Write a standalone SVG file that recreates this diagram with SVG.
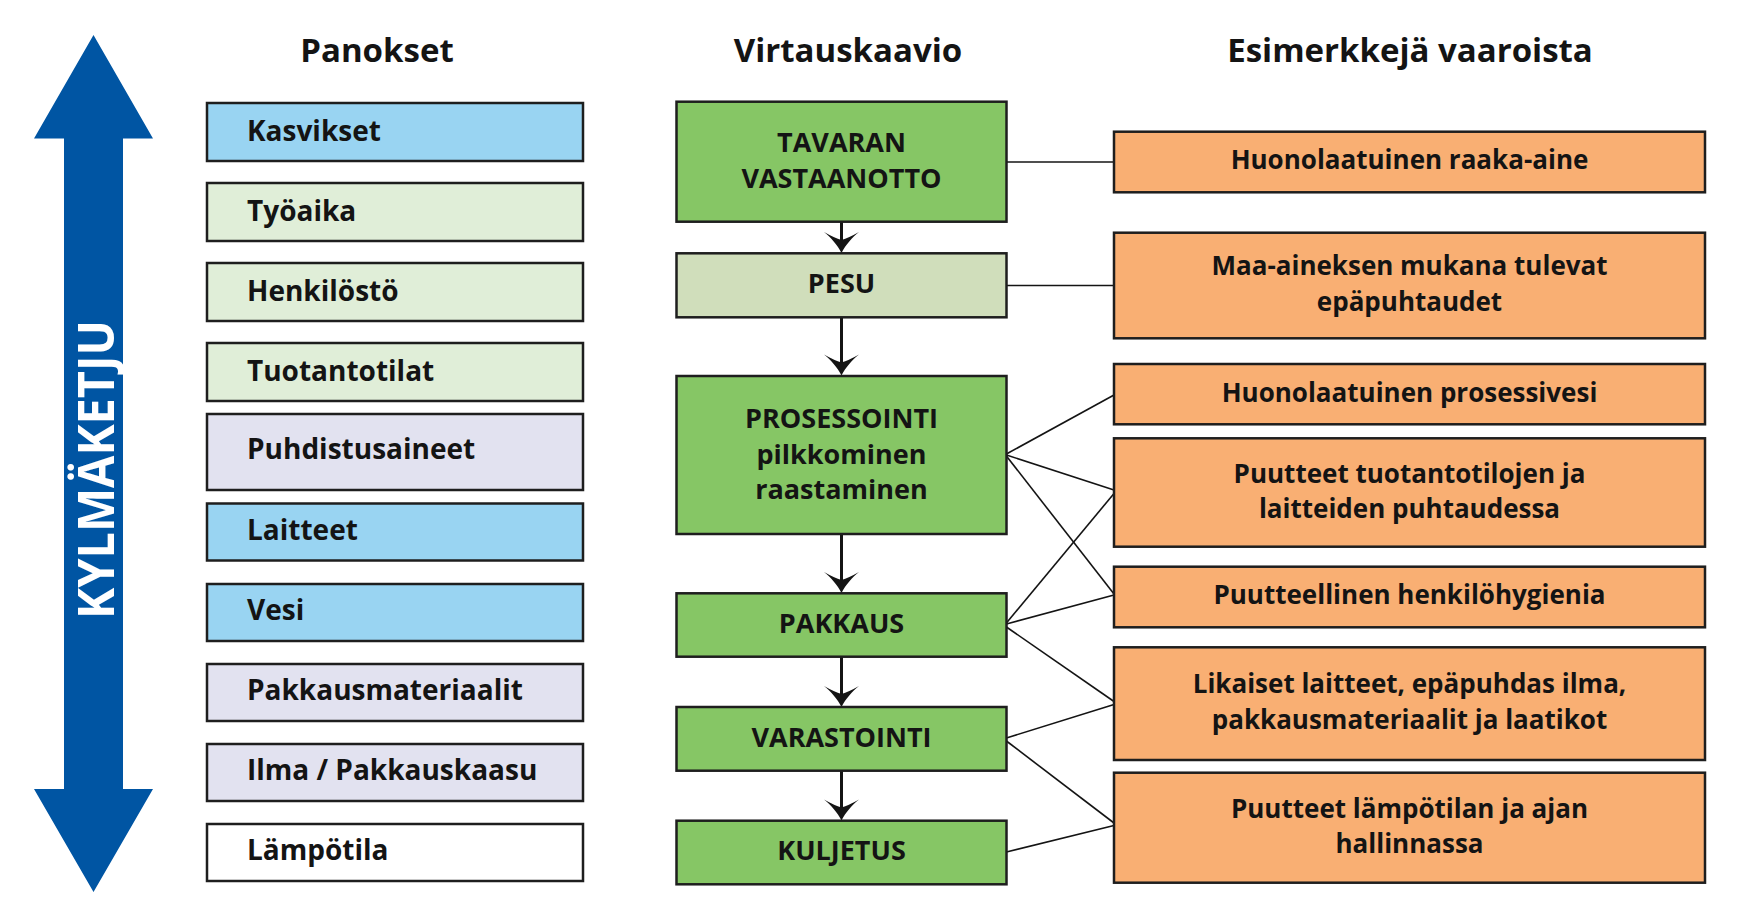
<svg xmlns="http://www.w3.org/2000/svg" xmlns:xlink="http://www.w3.org/1999/xlink" width="1737" height="918" viewBox="0 0 1737 918">
<style>
text{font-family:"Open Sans","Noto Sans",sans-serif;font-weight:700;fill:#141414}
.h{font-size:33px;text-anchor:middle}
.in{font-size:28px}
.fl{font-size:27px;text-anchor:middle}
.hz{font-size:26px;text-anchor:middle}
.box{stroke:#1e1e1e;stroke-width:2.5}
.blue{fill:#99D4F2}.lg{fill:#E0EED8}.lav{fill:#E2E2F0}.wh{fill:#FFFFFF}
.grn{fill:#86C665}.pesu{fill:#D0DEBB}.or{fill:#F9AF73}
.flow{stroke:#141414;stroke-width:3;fill:none}
.con{stroke:#141414;stroke-width:1.6;fill:none}
</style>
<defs>
<path id="ah" d="M0,0 C-4,-8 -11,-16 -17.5,-21 Q-7,-15 0,-13 Q7,-15 17.5,-21 C11,-16 4,-8 0,0 Z" fill="#141414"/>
</defs>
<rect width="1737" height="918" fill="#FFFFFF"/>

<g id="coldchain">
<path d="M93.5,35 L153,138.5 L123,138.5 L123,789 L153,789 L93.5,892 L34,789 L64,789 L64,138.5 L34,138.5 Z" fill="#0055A3"/>
<text transform="translate(113.5,469.5) rotate(-90)" text-anchor="middle" style="font-size:50px;fill:#FFFFFF" textLength="299" lengthAdjust="spacingAndGlyphs">KYLMÄKETJU</text>
</g>

<g id="headers">
<text class="h" x="377" y="62">Panokset</text>
<text class="h" x="848" y="62">Virtauskaavio</text>
<text class="h" x="1410" y="62">Esimerkkejä vaaroista</text>
</g>

<g id="in-kasvikset"><rect class="box blue" x="207" y="103" width="376" height="58"/><text class="in" x="247" y="141">Kasvikset</text></g>
<g id="in-tyoaika"><rect class="box lg" x="207" y="183" width="376" height="58"/><text class="in" x="247" y="221">Työaika</text></g>
<g id="in-henkilosto"><rect class="box lg" x="207" y="263" width="376" height="58"/><text class="in" x="247" y="301">Henkilöstö</text></g>
<g id="in-tuotantotilat"><rect class="box lg" x="207" y="343" width="376" height="58"/><text class="in" x="247" y="381">Tuotantotilat</text></g>
<g id="in-puhdistusaineet"><rect class="box lav" x="207" y="414" width="376" height="76"/><text class="in" x="247" y="459">Puhdistusaineet</text></g>
<g id="in-laitteet"><rect class="box blue" x="207" y="503.5" width="376" height="57"/><text class="in" x="247" y="540">Laitteet</text></g>
<g id="in-vesi"><rect class="box blue" x="207" y="584" width="376" height="57"/><text class="in" x="247" y="620">Vesi</text></g>
<g id="in-pakkausmateriaalit"><rect class="box lav" x="207" y="664" width="376" height="57"/><text class="in" x="247" y="699.5">Pakkausmateriaalit</text></g>
<g id="in-ilma"><rect class="box lav" x="207" y="744" width="376" height="57"/><text class="in" x="247" y="779.5">Ilma / Pakkauskaasu</text></g>
<g id="in-lampotila"><rect class="box wh" x="207" y="824" width="376" height="57"/><text class="in" x="247" y="859.5">Lämpötila</text></g>

<g id="connectors">
<line class="flow" x1="841.5" y1="221.7" x2="841.5" y2="243"/>
<use xlink:href="#ah" x="841.5" y="253"/>
<line class="flow" x1="841.5" y1="317.3" x2="841.5" y2="366"/>
<use xlink:href="#ah" x="841.5" y="375.5"/>
<line class="flow" x1="841.5" y1="534" x2="841.5" y2="583"/>
<use xlink:href="#ah" x="841.5" y="593"/>
<line class="flow" x1="841.5" y1="656.7" x2="841.5" y2="697"/>
<use xlink:href="#ah" x="841.5" y="707"/>
<line class="flow" x1="841.5" y1="770.7" x2="841.5" y2="811"/>
<use xlink:href="#ah" x="841.5" y="820.5"/>

<line class="con" x1="1006.4" y1="162" x2="1114" y2="162"/>
<line class="con" x1="1006.4" y1="285.5" x2="1114" y2="285.5"/>
<line class="con" x1="1006.4" y1="454" x2="1114" y2="395"/>
<line class="con" x1="1006.4" y1="455" x2="1114" y2="490"/>
<line class="con" x1="1006.4" y1="456" x2="1114" y2="594"/>
<line class="con" x1="1006.4" y1="623" x2="1114" y2="493.5"/>
<line class="con" x1="1006.4" y1="624" x2="1114" y2="595"/>
<line class="con" x1="1006.4" y1="627" x2="1114" y2="701.5"/>
<line class="con" x1="1006.4" y1="738" x2="1114" y2="704.5"/>
<line class="con" x1="1006.4" y1="741" x2="1114" y2="823"/>
<line class="con" x1="1006.4" y1="852" x2="1114" y2="825.5"/>
</g>

<g id="flow-tavaran"><rect class="box grn" x="676.5" y="101.7" width="330" height="120"/><text class="fl" x="841.5" y="152.3">TAVARAN</text><text class="fl" x="841.5" y="187.7">VASTAANOTTO</text></g>
<g id="flow-pesu"><rect class="box pesu" x="676.5" y="253.3" width="330" height="64"/><text class="fl" x="841.5" y="293.3">PESU</text></g>
<g id="flow-prosessointi"><rect class="box grn" x="676.5" y="376" width="330" height="158"/><text class="fl" x="841.5" y="427.7">PROSESSOINTI</text><text class="fl" x="841.5" y="463.5">pilkkominen</text><text class="fl" x="841.5" y="499.3">raastaminen</text></g>
<g id="flow-pakkaus"><rect class="box grn" x="676.5" y="593.3" width="330" height="63.4"/><text class="fl" x="841.5" y="632.7">PAKKAUS</text></g>
<g id="flow-varastointi"><rect class="box grn" x="676.5" y="707" width="330" height="63.7"/><text class="fl" x="841.5" y="746.7">VARASTOINTI</text></g>
<g id="flow-kuljetus"><rect class="box grn" x="676.5" y="820.7" width="330" height="63.6"/><text class="fl" x="841.5" y="860">KULJETUS</text></g>

<g id="hz-raaka-aine"><rect class="box or" x="1114" y="131.7" width="591" height="60.6"/><text class="hz" x="1409.5" y="169.3">Huonolaatuinen raaka-aine</text></g>
<g id="hz-maa-aines"><rect class="box or" x="1114" y="232.7" width="591" height="105.6"/><text class="hz" x="1409.5" y="275">Maa-aineksen mukana tulevat</text><text class="hz" x="1409.5" y="310.7">epäpuhtaudet</text></g>
<g id="hz-prosessivesi"><rect class="box or" x="1114" y="364" width="591" height="60.3"/><text class="hz" x="1409.5" y="401.7">Huonolaatuinen prosessivesi</text></g>
<g id="hz-puhtaus"><rect class="box or" x="1114" y="438.3" width="591" height="108.4"/><text class="hz" x="1409.5" y="482.7">Puutteet tuotantotilojen ja</text><text class="hz" x="1409.5" y="518.3">laitteiden puhtaudessa</text></g>
<g id="hz-hygienia"><rect class="box or" x="1114" y="566.7" width="591" height="60.6"/><text class="hz" x="1409.5" y="604.3">Puutteellinen henkilöhygienia</text></g>
<g id="hz-likaiset"><rect class="box or" x="1114" y="647.3" width="591" height="112.7"/><text class="hz" x="1409.5" y="693.3">Likaiset laitteet, epäpuhdas ilma,</text><text class="hz" x="1409.5" y="729.3">pakkausmateriaalit ja laatikot</text></g>
<g id="hz-lampotila"><rect class="box or" x="1114" y="772.7" width="591" height="110"/><text class="hz" x="1409.5" y="817.7">Puutteet lämpötilan ja ajan</text><text class="hz" x="1409.5" y="853.3">hallinnassa</text></g>
</svg>
